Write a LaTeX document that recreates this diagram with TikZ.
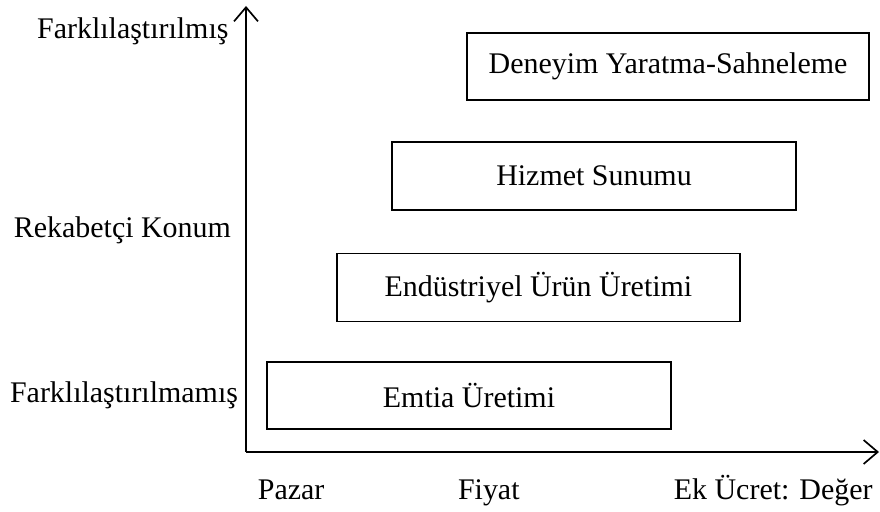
\documentclass[tikz,border=0pt]{standalone}
\usepackage{fontspec}
\setmainfont{Liberation Serif}
\usepackage{tikz}
\usetikzlibrary{arrows.meta}

\begin{document}
\begin{tikzpicture}[every node/.style={font=\fontsize{21.3}{25}\selectfont},
    kutu/.style={draw, line width=1.2pt, minimum width=10.05cm, minimum height=1.68cm, inner sep=0pt},
    eksen/.style={line width=1.2pt, -{Straight Barb[length=10pt,width=17pt]}}]
        \useasboundingbox (0,0) rectangle (22,12.8);
        \coordinate (O) at (6.15,1.5);
        \coordinate (ytop) at (6.15,12.65);
        \coordinate (xend) at (21.975,1.5);
        \draw[eksen] (O) -- (ytop);
        \draw[eksen] (O) -- (xend);
        \node[kutu] (deneyim) at (16.7,11.14) {Deneyim Yaratma-Sahneleme};
        \node[kutu, minimum width=10.1cm, minimum height=1.7cm] (hizmet) at (14.85,8.4) {Hizmet Sunumu};
        \node[kutu, minimum width=10.08cm, minimum height=1.7cm] (urun) at (13.46,5.61) {Endüstriyel Ürün Üretimi};
        \node[kutu, minimum width=10.1cm] (emtia) at (11.725,2.91) {Emtia Üretimi};
        \node[anchor=base] (farkli) at (3.32,11.83) {Farklılaştırılmış};
        \node[anchor=base] (konum) at (3.06,6.85) {Rekabetçi Konum};
        \node[anchor=base] (farksiz) at (3.1,2.73) {Farklılaştırılmamış};
        \node[anchor=base] (pazar) at (7.28,0.3) {Pazar};
        \node[anchor=base] (fiyat) at (12.22,0.3) {Fiyat};
        \node[anchor=base] (deger) at (19.33,0.3) {Ek Ücret: Değer};
    \end{tikzpicture}
\end{document}
